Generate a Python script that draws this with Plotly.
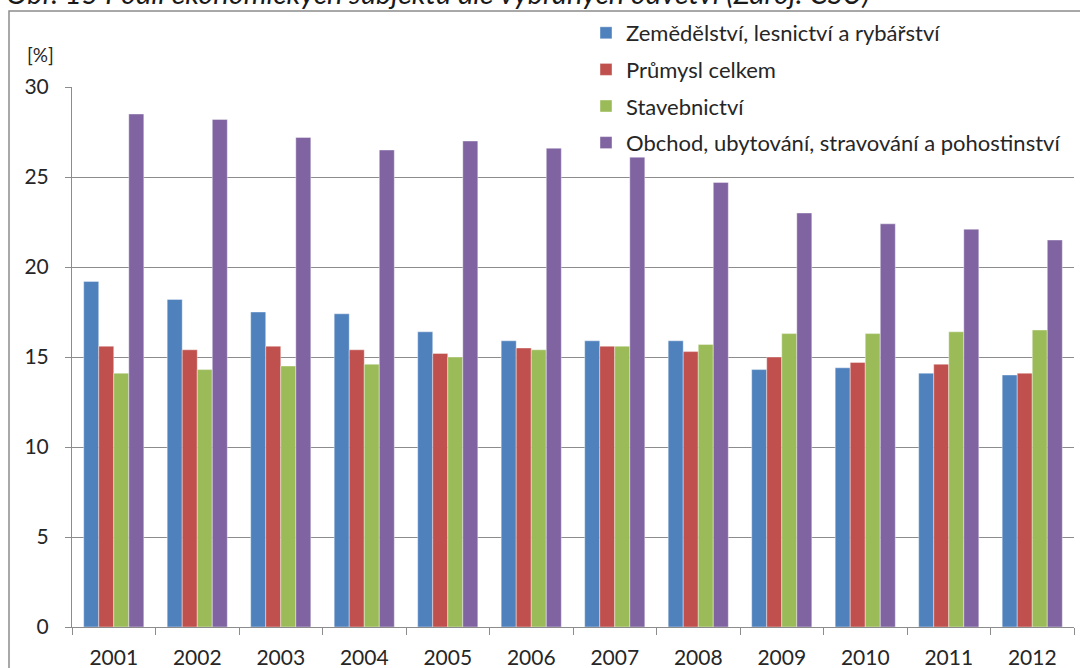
import plotly.graph_objects as go

# years on the x axis
years = ["2001", "2002", "2003", "2004", "2005", "2006",
         "2007", "2008", "2009", "2010", "2011", "2012"]

# share of economic subjects by sector [%]
zemedelstvi = [19.2, 18.2, 17.5, 17.4, 16.4, 15.9, 15.9, 15.9, 14.3, 14.4, 14.1, 14.0]
prumysl = [15.6, 15.4, 15.6, 15.4, 15.2, 15.5, 15.6, 15.3, 15.0, 14.7, 14.6, 14.1]
stavebnictvi = [14.1, 14.3, 14.5, 14.6, 15.0, 15.4, 15.6, 15.7, 16.3, 16.3, 16.4, 16.5]
obchod = [28.5, 28.2, 27.2, 26.5, 27.0, 26.6, 26.1, 24.7, 23.0, 22.4, 22.1, 21.5]

series = [
    ("Zemědělství, lesnictví a rybářství", zemedelstvi, "#4F81BD"),
    ("Průmysl celkem", prumysl, "#C0504D"),
    ("Stavebnictví", stavebnictvi, "#9BBB59"),
    ("Obchod, ubytování, stravování a pohostinství", obchod, "#8064A2"),
]

FONT = "Lato"

fig = go.Figure()
for i, (name, vals, col) in enumerate(series):
    fig.add_trace(go.Bar(
        x=years, y=vals, name=name,
        marker=dict(color=col, line=dict(color="rgba(255,255,255,0.5)", width=0.8)),
        legendgroup="g%d" % i,
    ))

# plot area in pixels: x 72..1074, y 87..627
L, R, T, B = 72, 1074, 87, 627
W, H = R - L, B - T


def px(x):
    return (x - L) / W


def py(y):
    return (B - y) / H


fig.update_layout(
    width=1080, height=668,
    margin=dict(l=L, r=1080 - R, t=T, b=668 - B),
    paper_bgcolor="white", plot_bgcolor="white",
    barmode="group", bargap=0.28, bargroupgap=0,
    font=dict(family=FONT, size=21, color="#262626"),
    showlegend=True,
    legend=dict(
        x=px(586), y=py(12), xanchor="left", yanchor="top",
        bgcolor="rgba(0,0,0,0)", font=dict(size=22, color="#262626"),
        tracegroupgap=5,
    ),
    xaxis=dict(
        type="category", showline=True, linecolor="#8c8c8c", linewidth=1,
        ticks="outside", tickson="boundaries", ticklen=7, tickcolor="#8c8c8c",
        showgrid=False, tickfont=dict(size=21), ticklabelstandoff=12,
        automargin=False,
    ),
    yaxis=dict(
        range=[0, 30], dtick=5, showline=True, linecolor="#8c8c8c", linewidth=1,
        ticks="outside", ticklen=6, tickcolor="#8c8c8c",
        showgrid=True, gridcolor="#8c8c8c", gridwidth=1,
        zeroline=False, tickfont=dict(size=21), ticklabelstandoff=12,
        automargin=False,
    ),
    annotations=[
        dict(text="[%]", x=px(25), y=py(55), xref="paper", yref="paper",
             xanchor="left", yanchor="middle", showarrow=False,
             font=dict(size=19, color="#262626")),
        dict(text="<i>Obr. 15 Podíl ekonomických subjektů dle vybraných odvětví (Zdroj: ČSÚ)</i>",
             x=px(4), y=py(-8), xref="paper", yref="paper",
             xanchor="left", yanchor="middle", showarrow=False,
             font=dict(size=29, color="#1a1a1a")),
    ],
    shapes=[
        dict(type="rect", xref="paper", yref="paper",
             x0=px(9), x1=px(1100), y0=py(700), y1=py(11),
             line=dict(color="#8c8c8c", width=1.5), layer="below"),
    ],
)

# page body has a default 8px margin; drop it so the figure fills the window
fig.write_html("out.html", config={"displayModeBar": False},
               post_script="document.body.style.margin='0';")
